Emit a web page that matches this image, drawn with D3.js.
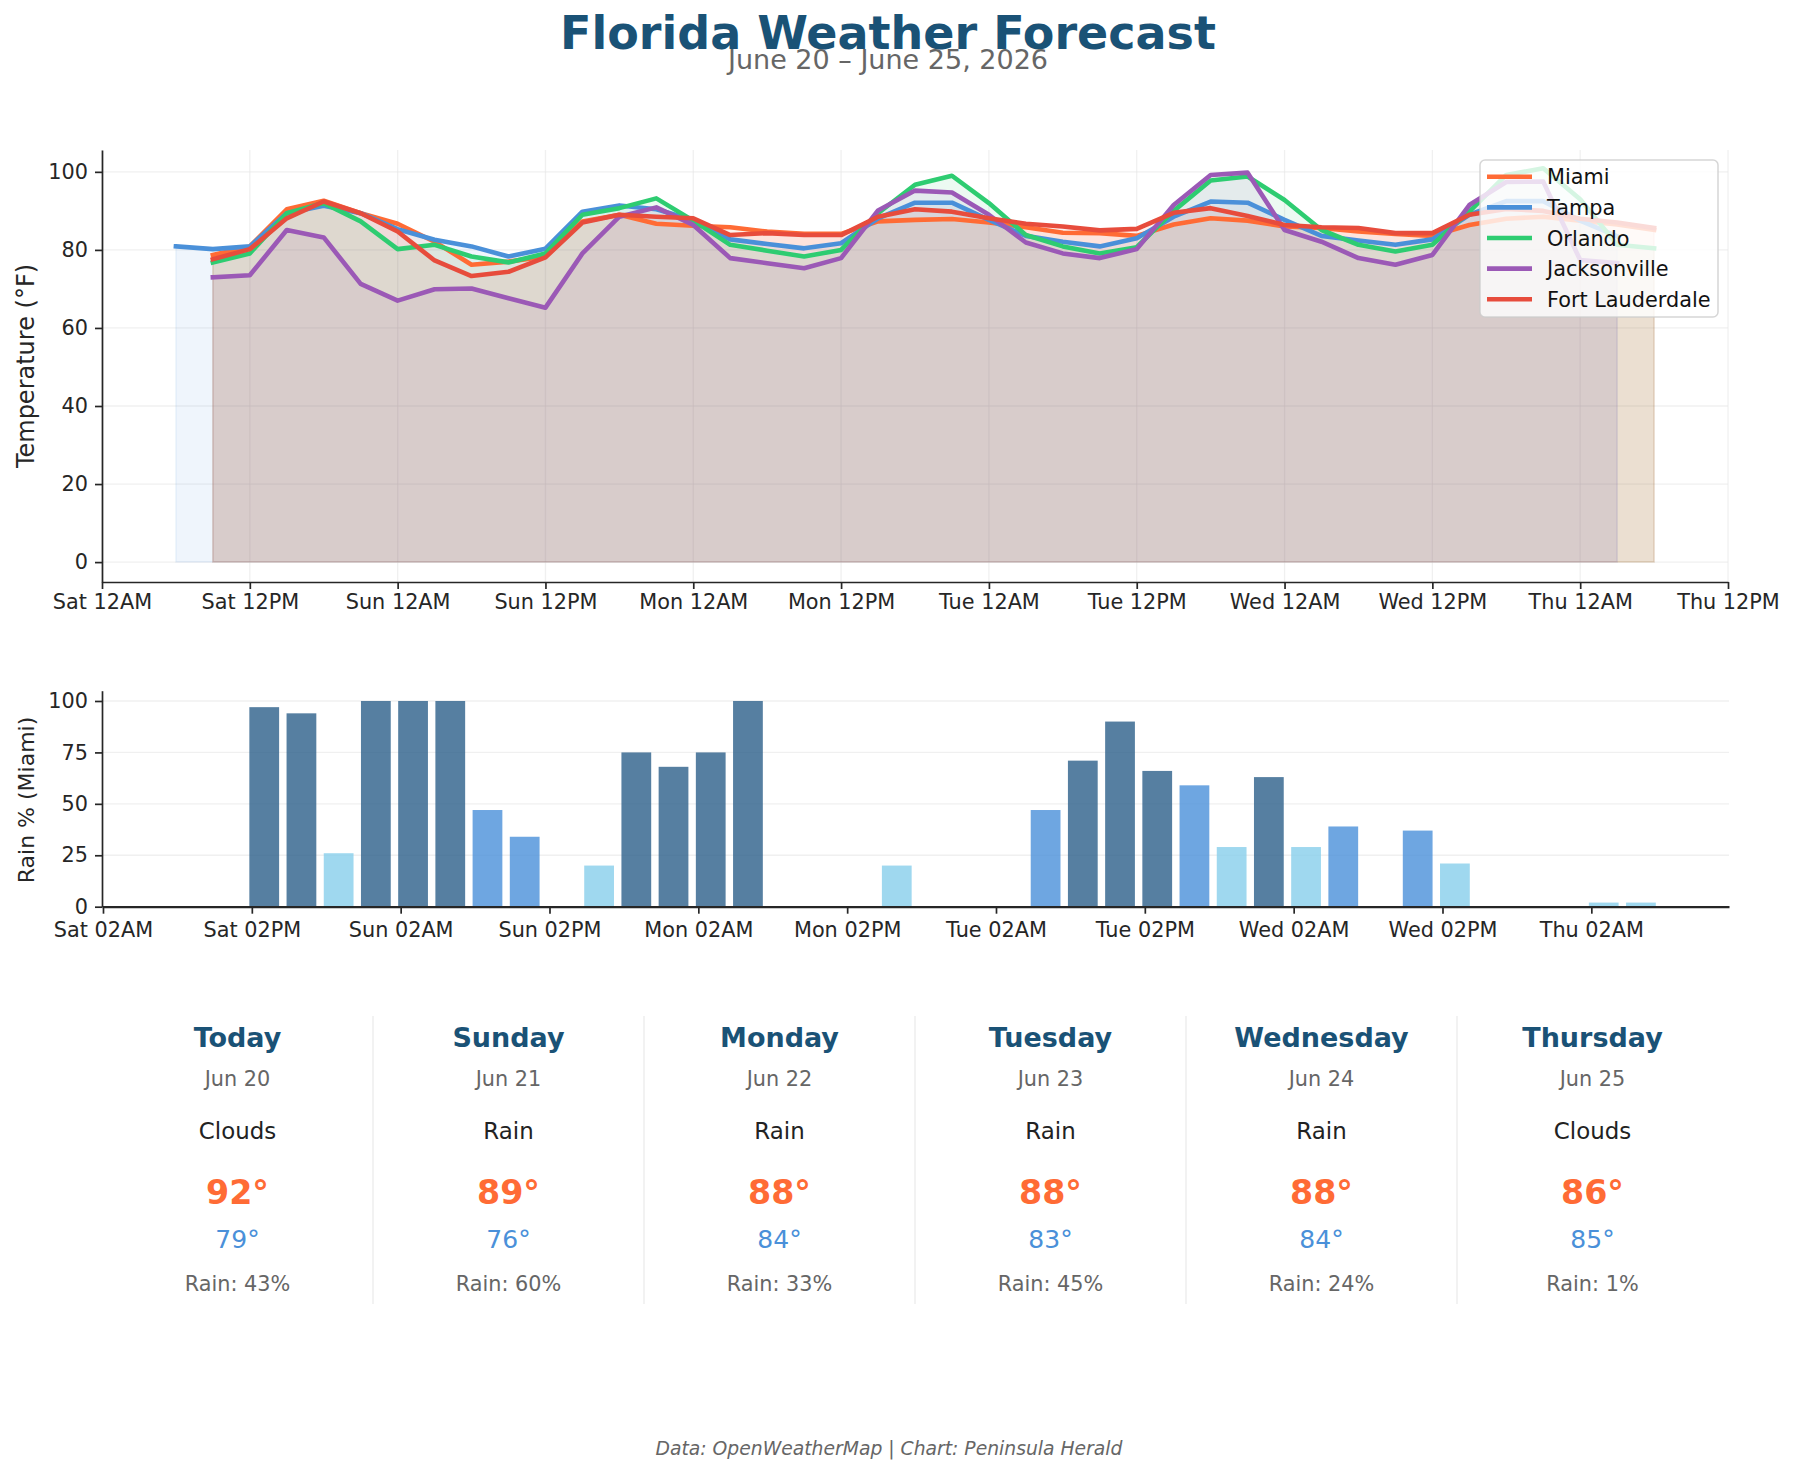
<!DOCTYPE html>
<html>
<head>
<meta charset="utf-8">
<script src="https://cdn.jsdelivr.net/npm/d3@7"></script>
<style>
  body { margin: 0; background: #fff; }
  svg { display: block; font-family: "DejaVu Sans", sans-serif; }
</style>
</head>
<body>
<div id="chart"></div>
<script>
// ---- data (hours counted from Sat Jun 20 2026, 00:00) ----
const cities = ['Miami', 'Tampa', 'Orlando', 'Jacksonville', 'Fort Lauderdale'];
const cityColors = ['#ff6b35', '#4a90d9', '#2ecc71', '#9b59b6', '#e74c3c'];
const cityStartHour = [9, 6, 9, 9, 9];   // first 3-hourly reading

const miamiTemp = [78.7, 80.9, 90.4, 92.6, 89.4, 86.7, 82.1, 76.2, 77.0, 78.3, 87.3, 89.0, 86.7,
  86.2, 85.8, 84.7, 84.1, 84.1, 87.3, 87.7, 87.9, 87.0, 85.8, 84.4, 84.3, 83.6, 86.5, 88.1, 87.5,
  86.0, 85.6, 84.7, 84.1, 83.6, 86.4, 88.0, 88.5, 87.5, 86.5, 85.1];
const tampaTemp = [80.9, 80.2, 80.9, 89.4, 91.3, 89.4, 85.3, 82.6, 80.9, 78.3, 80.3, 89.8, 91.4, 90.4,
  87.7, 82.7, 81.5, 80.4, 81.7, 88.1, 92.1, 92.1, 87.7, 83.6, 82.1, 80.9, 83.0, 88.5, 92.4, 92.1,
  87.7, 83.6, 82.4, 81.3, 82.7, 89.0, 92.5, 92.5, 87.5, 83.5];
const orlandoTemp = [76.8, 79.1, 89.4, 92.0, 87.3, 80.2, 81.3, 78.3, 76.8, 79.1, 89.0, 90.7, 93.2,
  87.5, 81.3, 79.8, 78.3, 80.0, 89.4, 96.7, 99.0, 92.0, 83.8, 80.9, 79.1, 80.7, 90.0, 97.8, 98.8,
  92.8, 85.1, 81.3, 79.6, 81.3, 89.8, 99.2, 100.9, 93.0, 81.3, 80.4];
const jacksonvilleTemp = [73.0, 73.5, 85.1, 83.2, 71.3, 67.0, 69.9, 70.1, 67.6, 65.2, 79.1, 88.5, 90.9,
  86.4, 77.9, 76.6, 75.3, 77.9, 90.1, 95.2, 94.7, 89.0, 81.9, 79.1, 77.9, 80.2, 91.5, 99.2, 99.8,
  85.1, 82.1, 77.9, 76.2, 78.7, 91.5, 97.4, 97.5, 77.4, 76.6];
const fortLauderdaleTemp = [77.6, 80.2, 88.1, 92.4, 89.4, 84.7, 77.3, 73.3, 74.4, 78.1, 87.0, 89.0, 88.5,
  88.1, 83.8, 84.3, 83.8, 83.8, 88.5, 90.4, 89.8, 88.1, 86.7, 86.0, 85.0, 85.4, 89.5, 90.7, 88.7,
  86.4, 85.8, 85.6, 84.3, 84.3, 89.0, 90.5, 90.0, 88.0, 87.0, 85.6];
const cityTemps = [miamiTemp, tampaTemp, orlandoTemp, jacksonvilleTemp, fortLauderdaleTemp];

// Miami rain chance, 3-hourly from Sat 15:00
const rainStartHour = 15;
const miamiRain = [97, 94, 26, 100, 100, 100, 47, 34, 0, 20, 75, 68, 75, 100,
  0, 0, 0, 20, 0, 0, 0, 47, 71, 90, 66, 59, 29, 63, 29, 39, 0, 37, 21, 0, 0, 0, 2, 2];

const tempTicks = [0, 20, 40, 60, 80, 100];
const rainTicks = [0, 25, 50, 75, 100];

const dayNames = ['Today', 'Sunday', 'Monday', 'Tuesday', 'Wednesday', 'Thursday'];
const dayDates = ['Jun 20', 'Jun 21', 'Jun 22', 'Jun 23', 'Jun 24', 'Jun 25'];
const dayConditions = ['Clouds', 'Rain', 'Rain', 'Rain', 'Rain', 'Clouds'];
const dayHigh = [92, 89, 88, 88, 88, 86];
const dayLow = [79, 76, 84, 83, 84, 85];
const dayRain = [43, 60, 33, 45, 24, 1];

// ---- helpers ----
const base = new Date(2026, 5, 20, 0, 0);
const hr = h => new Date(base.getTime() + h * 3600e3);
const fmt = d3.timeFormat('%a %I%p');

const W = 1795, H = 1474;
const svg = d3.select('#chart').append('svg')
  .attr('width', W).attr('height', H);

// title (subtitle sits right under it, overlapping slightly as in the original)
svg.append('text').attr('x', 888).attr('y', 49).attr('text-anchor', 'middle')
  .style('font-size', '46px').style('font-weight', 'bold').style('fill', '#1a5276')
  .text('Florida Weather Forecast');
svg.append('text').attr('x', 888).attr('y', 69).attr('text-anchor', 'middle')
  .style('font-size', '27px').style('fill', '#666')
  .text('June 20 – June 25, 2026');

function styleAxis(g, width) {
  g.select('.domain').attr('stroke', '#262626').attr('stroke-width', width);
  g.selectAll('.tick line').attr('stroke', '#262626').attr('stroke-width', 1.7);
  g.selectAll('.tick text').style('font-size', '20.8px').style('fill', '#262626')
    .style('font-family', '"DejaVu Sans", sans-serif');
}

// ---- temperature chart ----
const x = d3.scaleTime().domain([hr(0), hr(132)]).range([102, 1728]);
const y = d3.scaleLinear().domain([-5.1, 105.6]).range([582, 150]);
const xTicks = d3.timeHour.every(12).range(hr(0), hr(132.1));

const tempChart = svg.append('g');
tempChart.append('g').selectAll('line').data(xTicks).join('line')
  .attr('x1', d => x(d)).attr('x2', d => x(d)).attr('y1', 150).attr('y2', 582)
  .attr('stroke', '#e6e6e6').attr('stroke-opacity', 0.6).attr('stroke-width', 1.3);
tempChart.append('g').selectAll('line').data(tempTicks).join('line')
  .attr('x1', 102).attr('x2', 1728).attr('y1', d => y(d)).attr('y2', d => y(d))
  .attr('stroke', '#e6e6e6').attr('stroke-opacity', 0.6).attr('stroke-width', 1.3);

const series = cities.map((c, i) => ({
  name: c,
  color: cityColors[i],
  values: cityTemps[i].map((v, j) => ({ t: hr(cityStartHour[i] + 3 * j), v: v }))
}));

const area = d3.area().x(d => x(d.t)).y0(y(0)).y1(d => y(d.v));
const line = d3.line().x(d => x(d.t)).y(d => y(d.v));

tempChart.append('g').selectAll('path').data(series).join('path')
  .attr('d', d => area(d.values))
  .attr('fill', d => d.color).attr('fill-opacity', 0.09)
  .attr('stroke', d => d.color).attr('stroke-opacity', 0.09).attr('stroke-width', 1.5);

tempChart.append('g').selectAll('path').data(series).join('path')
  .attr('d', d => line(d.values))
  .attr('fill', 'none').attr('stroke', d => d.color).attr('stroke-width', 4.6)
  .attr('stroke-linejoin', 'round').attr('stroke-linecap', 'square');

const xAxisTop = tempChart.append('g').attr('transform', 'translate(0,582)')
  .call(d3.axisBottom(x).tickValues(xTicks).tickFormat(fmt).tickSize(7).tickPadding(5.5).tickSizeOuter(0));
styleAxis(xAxisTop, 1.7);
const yAxisTop = tempChart.append('g').attr('transform', 'translate(102,0)')
  .call(d3.axisLeft(y).tickValues(tempTicks).tickSize(7).tickPadding(7).tickSizeOuter(0));
styleAxis(yAxisTop, 1.7);

tempChart.append('text').attr('transform', 'translate(34,366) rotate(-90)')
  .attr('text-anchor', 'middle').style('font-size', '24px').style('fill', '#262626')
  .text('Temperature (°F)');

// legend
const leg = tempChart.append('g').attr('transform', 'translate(1480,160)');
leg.append('rect').attr('width', 238).attr('height', 157).attr('rx', 5)
  .attr('fill', '#fff').attr('fill-opacity', 0.8)
  .attr('stroke', '#cccccc').attr('stroke-opacity', 0.8).attr('stroke-width', 1.5);
const legItems = leg.selectAll('g').data(series).join('g')
  .attr('transform', (d, i) => `translate(0,${16.7 + i * 30.65})`);
legItems.append('line').attr('x1', 7).attr('x2', 52)
  .attr('stroke', d => d.color).attr('stroke-width', 4.6);
legItems.append('text').attr('x', 67).attr('y', 7.6)
  .style('font-size', '20.8px').style('fill', '#111').text(d => d.name);

// ---- rain chart ----
const xb = d3.scaleTime().domain([hr(1.92), hr(133.1)]).range([102, 1729]);
const yb = d3.scaleLinear().domain([0, 105]).range([906.7, 690.7]);
const rainColor = d3.scaleThreshold().domain([30, 60]).range(['#87ceeb', '#4a90d9', '#2c5f8a']);
const rainData = miamiRain.map((v, j) => ({ t: hr(rainStartHour + 3 * j), v: v }));
const barW = xb(hr(2.4)) - xb(hr(0));
const barTicks = d3.timeHour.every(1).range(hr(2), hr(123)).filter(d => d.getHours() % 12 === 2);

const rainChart = svg.append('g');
rainChart.append('g').selectAll('line').data(rainTicks).join('line')
  .attr('x1', 102).attr('x2', 1729).attr('y1', d => yb(d)).attr('y2', d => yb(d))
  .attr('stroke', '#e6e6e6').attr('stroke-opacity', 0.6).attr('stroke-width', 1.3);

rainChart.append('g').selectAll('rect').data(rainData.filter(d => d.v > 0)).join('rect')
  .attr('x', d => xb(d.t) - barW / 2).attr('width', barW)
  .attr('y', d => yb(d.v)).attr('height', d => yb(0) - yb(d.v))
  .attr('fill', d => rainColor(d.v)).attr('fill-opacity', 0.8);

const xAxisBot = rainChart.append('g').attr('transform', 'translate(0,906.7)')
  .call(d3.axisBottom(xb).tickValues(barTicks).tickFormat(fmt).tickSize(7).tickPadding(9).tickSizeOuter(0));
styleAxis(xAxisBot, 2.2);
const yAxisBot = rainChart.append('g').attr('transform', 'translate(102,0)')
  .call(d3.axisLeft(yb).tickValues(rainTicks).tickSize(7).tickPadding(7).tickSizeOuter(0));
styleAxis(yAxisBot, 1.7);

rainChart.append('text').attr('transform', 'translate(34,800) rotate(-90)')
  .attr('text-anchor', 'middle').style('font-size', '22px').style('fill', '#262626')
  .text('Rain % (Miami)');

// ---- daily cards ----
const band = d3.scaleBand().domain(dayNames).range([102, 1728]);
const cards = svg.append('g');
cards.selectAll('line').data(dayNames.slice(1)).join('line')
  .attr('x1', d => band(d)).attr('x2', d => band(d)).attr('y1', 1016).attr('y2', 1304)
  .attr('stroke', '#eeeeee').attr('stroke-width', 1.5);

const card = cards.selectAll('g').data(dayNames).join('g')
  .attr('transform', d => `translate(${band(d) + band.bandwidth() / 2},0)`)
  .attr('text-anchor', 'middle');
card.append('text').attr('y', 1046.5).style('font-size', '27px').style('font-weight', 'bold')
  .style('fill', '#1a5276').text(d => d);
card.append('text').attr('y', 1086).style('font-size', '20.8px').style('fill', '#666')
  .text((d, i) => dayDates[i]);
card.append('text').attr('y', 1138.5).style('font-size', '22.9px').style('fill', '#222')
  .text((d, i) => dayConditions[i]);
card.append('text').attr('y', 1204.3).style('font-size', '33.3px').style('font-weight', 'bold')
  .style('fill', '#ff6b35').text((d, i) => dayHigh[i] + '°');
card.append('text').attr('y', 1247.6).style('font-size', '25px').style('fill', '#4a90d9')
  .text((d, i) => dayLow[i] + '°');
card.append('text').attr('y', 1290.5).style('font-size', '20.8px').style('fill', '#666')
  .text((d, i) => 'Rain: ' + dayRain[i] + '%');

// footer
svg.append('text').attr('x', 889).attr('y', 1455).attr('text-anchor', 'middle')
  .style('font-size', '18.75px').style('font-style', 'italic').style('fill', '#666')
  .text('Data: OpenWeatherMap | Chart: Peninsula Herald');
</script>
</body>
</html>
